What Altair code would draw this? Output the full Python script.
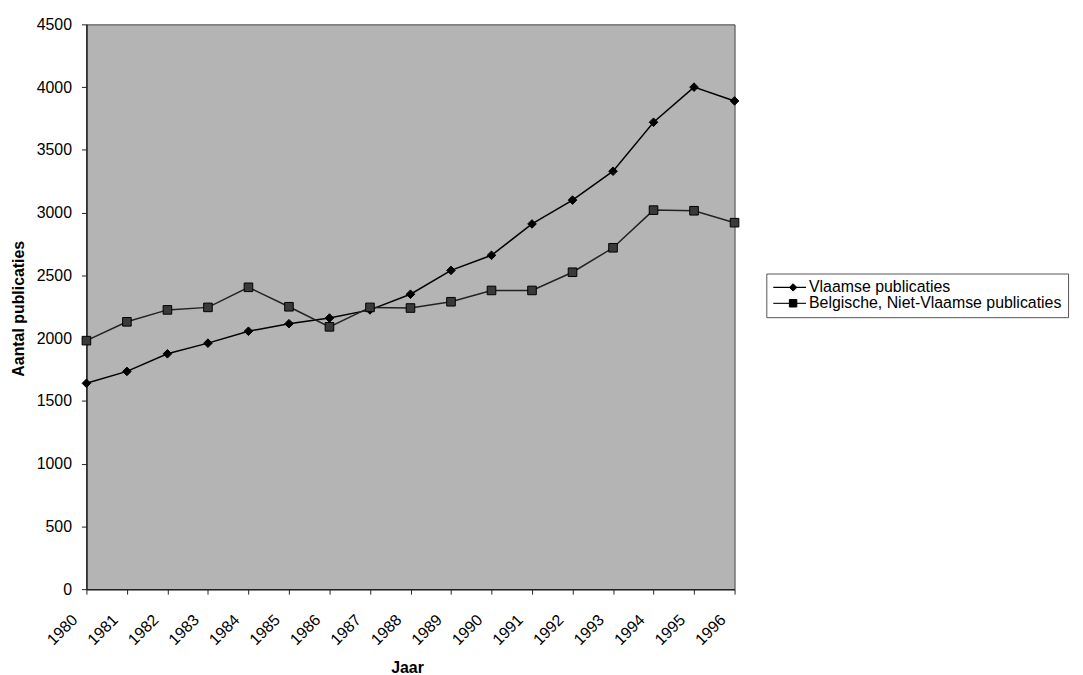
import altair as alt
import pandas as pd

years = list(range(1980, 1997))
vlaamse = [1640, 1735, 1875, 1960, 2055, 2115, 2160, 2225, 2350, 2540, 2660, 2910, 3100, 3330, 3720, 4000, 3890]
belgische = [1980, 2130, 2225, 2245, 2405, 2250, 2090, 2245, 2240, 2290, 2380, 2380, 2525, 2720, 3020, 3015, 2920]
series = ["Vlaamse publicaties", "Belgische, Niet-Vlaamse publicaties"]
y_ticks = list(range(0, 4501, 500))

df = pd.DataFrame({
    "Jaar": years * 2,
    "Aantal": vlaamse + belgische,
    "Reeks": [series[0]] * len(years) + [series[1]] * len(years),
})

LX, LY = 685, 251

x = alt.X("Jaar:Q",
          scale=alt.Scale(domain=[1980, 1996], nice=False, zero=False),
          axis=alt.Axis(values=years, format="d", title="Jaar", labelAngle=-45,
                        labelAlign="right", labelBaseline="middle",
                        labelPadding=23, labelOffset=-12, tickSize=5,
                        grid=False, titleX=323, titleY=79, titleBaseline="middle",
                        titleAlign="center"))
y = alt.Y("Aantal:Q",
          scale=alt.Scale(domain=[0, 4500], nice=False),
          axis=alt.Axis(values=y_ticks, format="d", title="Aantal publicaties", tickSize=5,
                        labelPadding=10, grid=False, titleAngle=270,
                        titleX=-68, titleY=286, titleAlign="center",
                        titleBaseline="middle"))

base = alt.Chart(df)

lines = base.mark_line(strokeWidth=1.5).encode(
    x=x, y=y,
    color=alt.Color("Reeks:N",
                    scale=alt.Scale(domain=series, range=["#000000", "#222222"]),
                    legend=alt.Legend(title=None, orient="none", legendX=LX, legendY=LY,
                                      symbolType="stroke", symbolSize=1089,
                                      symbolStrokeWidth=1.2, clipHeight=16,
                                      labelFont="Liberation Sans", labelFontSize=16,
                                      labelColor="#000000", labelOffset=2, labelLimit=400,
                                      rowPadding=0, padding=6,
                                      strokeColor="#555555", fillColor="#ffffff",
                                      zindex=0)),
)

points = base.transform_calculate(Reeks2="datum.Reeks").mark_point(
    filled=True, size=75, stroke="#000000", strokeWidth=1, opacity=1
).encode(
    x=x, y=y,
    shape=alt.Shape("Reeks2:N", sort=series,
                    scale=alt.Scale(range=["diamond", "square"]),
                    legend=alt.Legend(title=None, orient="none", legendX=LX, legendY=LY,
                                      symbolSize=56, symbolStrokeWidth=1, clipHeight=16,
                                      symbolOffset=13, labelExpr="''",
                                      labelFontSize=16, labelOffset=2,
                                      rowPadding=0, padding=6, zindex=1)),
    fill=alt.Fill("Reeks2:N", sort=series,
                  scale=alt.Scale(range=["#000000", "#3a3a3a"]),
                  legend=None),
)

chart = alt.layer(lines, points).properties(
    width=653, height=569,
    autosize=alt.AutoSizeParams(type="none"),
    padding={"left": 79, "top": 14, "right": 343, "bottom": 84},
    background="#ffffff",
).configure_view(
    fill="#b4b4b4", stroke="#444444", strokeWidth=1
).configure_axis(
    labelFont="Liberation Sans", labelFontSize=16, labelColor="#000000",
    titleFont="Liberation Sans", titleFontSize=16, titleFontWeight="bold",
    titleColor="#000000", domainColor="#222222", tickColor="#222222",
    domainWidth=1.5,
)

chart.save("out.html", embed_options={"renderer": "svg", "actions": False})
